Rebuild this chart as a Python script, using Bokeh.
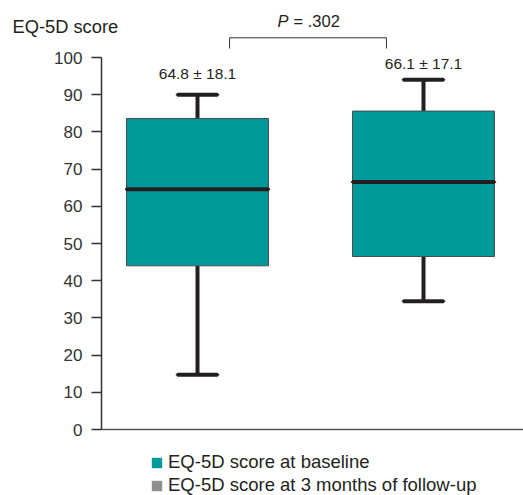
from bokeh.plotting import figure
from bokeh.models import (Range1d, FixedTicker, Label, Legend, LegendItem,
                          ColumnDataSource)
from bokeh.core.properties import value
from bokeh.embed import file_html
from bokeh.resources import INLINE

# ---- data ----
groups = ["EQ-5D score at baseline", "EQ-5D score at 3 months of follow-up"]
x_pos = [1, 2]
q1 = [44.0, 46.5]
median = [64.6, 66.5]
q3 = [83.6, 85.6]
lower = [14.7, 34.5]
upper = [90.0, 94.0]
mean_sd_labels = ["64.8 \u00b1 18.1", "66.1 \u00b1 17.1"]
label_y = [95.7, 98.4]
y_ticks = [0, 10, 20, 30, 40, 50, 60, 70, 80, 90, 100]
p_value = ".302"
legend_colors = ["#00999a", "#8e8e91"]

FONT = "Liberation Sans"
TXT = "#231f20"
BOX_W = 0.628
CAP_W = 0.177
W, H = 523, 495
X0 = 0.575  # data x where the y axis sits

p = figure(width=W, height=H, output_backend="svg", toolbar_location=None,
           x_range=Range1d(29 / 226, (W + 29) / 226),
           y_range=Range1d((429 - H) / 3.72, 429 / 3.72),
           min_border_left=0, min_border_right=0, min_border_top=0,
           min_border_bottom=0)
p.outline_line_color = None
p.xgrid.visible = False
p.ygrid.visible = False
p.background_fill_color = "white"

# axes (drawn at fixed data locations inside the frame)
p.yaxis.fixed_location = X0
p.yaxis.ticker = FixedTicker(ticks=y_ticks)
p.yaxis.bounds = (0, 100)
p.yaxis.axis_line_color = "#333333"
p.yaxis.axis_line_width = 1.5
p.yaxis.major_tick_line_color = "#333333"
p.yaxis.major_tick_line_width = 1.5
p.yaxis.major_tick_out = 10
p.yaxis.major_tick_in = 0
p.yaxis.minor_tick_line_color = None
p.yaxis.major_label_standoff = 9
p.yaxis.major_label_text_font = FONT
p.yaxis.major_label_text_font_size = "17px"
p.yaxis.major_label_text_color = "#333333"

p.xaxis.fixed_location = 0
p.xaxis.bounds = (X0, (W + 29) / 226)
p.xaxis.ticker = FixedTicker(ticks=[])
p.xaxis.major_tick_line_color = None
p.xaxis.minor_tick_line_color = None
p.xaxis.axis_line_color = "#555555"
p.xaxis.axis_line_width = 1.5

src = ColumnDataSource(dict(x=x_pos, q1=q1, med=median, q3=q3, lo=lower,
                            hi=upper, lab=mean_sd_labels, ly=label_y))

# whiskers
p.segment(x0="x", y0="q3", x1="x", y1="hi", source=src, line_color=TXT, line_width=4)
p.segment(x0="x", y0="lo", x1="x", y1="q1", source=src, line_color=TXT, line_width=4)
p.rect(x="x", y="hi", width=CAP_W, height=0.0001, source=src,
       line_color=TXT, line_width=4, fill_color=None)
p.rect(x="x", y="lo", width=CAP_W, height=0.0001, source=src,
       line_color=TXT, line_width=4, fill_color=None)
# boxes
p.vbar(x="x", width=BOX_W, bottom="q1", top="q3", source=src,
       fill_color=legend_colors[0], line_color="#4a4a4a", line_width=1)
# medians
p.rect(x="x", y="med", width=BOX_W, height=0.0001, source=src,
       line_color=TXT, line_width=4, fill_color=None)

# mean +- sd labels
p.text(x="x", y="ly", text="lab", source=src, text_font=value(FONT),
       text_font_size="15.5px", text_color=TXT, text_align="center",
       text_baseline="middle")

# significance bracket
bx0, bx1, by_top, by_bot = 1.142, 1.836, 105.3, 102.4
p.line(x=[bx0, bx0, bx1, bx1], y=[by_bot, by_top, by_top, by_bot],
       line_color="#333333", line_width=1)
p.add_layout(Label(x=1.354, y=109.9, text="P", text_font=FONT,
                   text_font_size="16.5px", text_font_style="italic",
                   text_color=TXT, text_baseline="middle"))
p.add_layout(Label(x=1.425, y=109.9, text="= " + p_value, text_font=FONT,
                   text_font_size="16.5px", text_color=TXT,
                   text_baseline="middle"))

# y-axis title
p.add_layout(Label(x=12, x_units="screen", y=108.3, text="EQ-5D score",
                   text_font=FONT, text_font_size="18.3px", text_color=TXT,
                   text_baseline="middle"))

# legend (proxy renderers that draw nothing in the plot area)
nan = float("nan")
r1 = p.vbar(x="x", top="top", width=0.1,
            source=ColumnDataSource(dict(x=[nan], top=[nan])),
            fill_color=legend_colors[0], line_color=None)
r2 = p.vbar(x="x", top="top", width=0.1,
            source=ColumnDataSource(dict(x=[nan], top=[nan])),
            fill_color=legend_colors[1], line_color=None)
legend = Legend(items=[LegendItem(label=groups[0], renderers=[r1]),
                       LegendItem(label=groups[1], renderers=[r2])],
                location=(150, -1), orientation="vertical",
                glyph_width=13, glyph_height=13, label_standoff=5,
                spacing=1, padding=0, margin=0, border_line_color=None,
                background_fill_alpha=0, label_text_font=FONT,
                label_text_font_size="18.5px", label_text_color=TXT,
                label_height=18)
p.add_layout(legend, "center")

open("out.html", "w").write(file_html(p, INLINE))
